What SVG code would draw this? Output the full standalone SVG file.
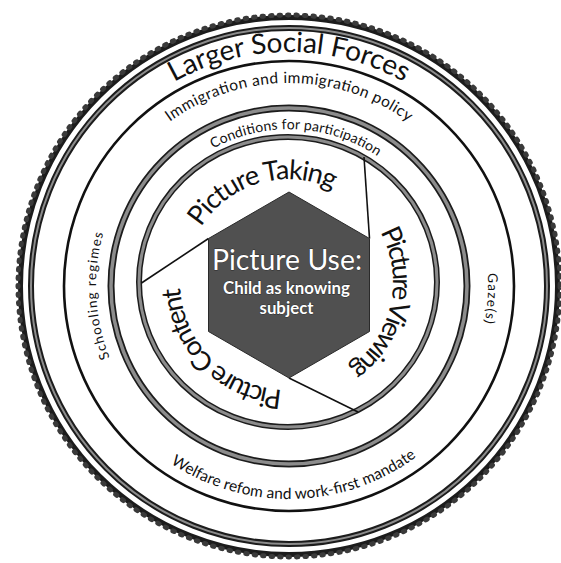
<svg xmlns="http://www.w3.org/2000/svg" width="561" height="563" viewBox="0 0 561 563">
<defs>
<style>
.edge{fill:none;stroke:#1c1c1c}
.core{fill:none;stroke:#8c8c8c}
.thin{fill:none;stroke:#111;stroke-width:2.6}
.bumps{fill:none;stroke:#3a3a3a;stroke-width:5;stroke-dasharray:1.5 7;stroke-linecap:round}
.t{font-family:Lato,"Open Sans","Liberation Sans",sans-serif;fill:#111;text-anchor:middle}
.blade{stroke:#111;stroke-width:1.6;fill:none}
.hex{fill:#505050;stroke:#2a2a2a;stroke-width:1}
.w{font-family:Lato,"Open Sans","Liberation Sans",sans-serif;fill:#fff;text-anchor:middle;stroke:#2a2a2a;stroke-width:0.8;paint-order:stroke}
</style>
<path id="pLarger" d="M55,286 A234,234 0 0 1 523,286"/>
<path id="pImm" d="M86,286 A203,203 0 0 1 492,286"/>
<path id="pCond" d="M131.18,278.56 A158,158 0 0 1 446.82,293.44"/>
<path id="pSchool" d="M282.26,478.88 A193,193 0 0 1 262.14,94.88"/>
<path id="pGaze" d="M301.15,87.37 A199,199 0 0 1 276.85,484.63"/>
<path id="pWelfare" d="M76.07,291.58 A213,213 0 0 0 501.93,280.42"/>
<path id="pTaking" d="M188.99,310.39 A103,103 0 0 1 387.01,253.61"/>
<path id="pViewing" d="M311.62,179.69 A105,105 0 0 1 264.38,384.31"/>
<path id="pContent" d="M364.37,358.37 A108,108 0 0 1 211.63,205.63"/>
</defs>
<rect width="561" height="563" fill="#fff"/>

<g id="outer-ring">
<circle cx="289" cy="286" r="268.5" class="edge" stroke="#3a3a3a" stroke-width="5"/>
<circle cx="289" cy="286" r="271" class="bumps"/>
<circle cx="289" cy="286" r="258" class="edge" stroke-width="6"/>
<circle cx="289" cy="286" r="258" class="core" stroke="#707070" stroke-width="2"/>
</g>

<g id="larger-social-forces">
<circle cx="289" cy="286" r="225" class="thin"/>
<text class="t" font-size="28"><textPath href="#pLarger" startOffset="50%" textLength="240" lengthAdjust="spacing">Larger Social Forces</textPath></text>
<text class="t" font-size="15.5"><textPath href="#pImm" startOffset="50%" textLength="255" lengthAdjust="spacing">Immigration and immigration policy</textPath></text>
<text class="t" font-size="13.5"><textPath href="#pSchool" startOffset="50%" textLength="127" lengthAdjust="spacing">Schooling regimes</textPath></text>
<text class="t" font-size="13.5"><textPath href="#pGaze" startOffset="50%" textLength="50" lengthAdjust="spacing">Gaze(s)</textPath></text>
<text class="t" font-size="15.5"><textPath href="#pWelfare" startOffset="50%" textLength="262" lengthAdjust="spacing">Welfare refom and work-first mandate</textPath></text>
</g>

<g id="conditions-ring">
<circle cx="289" cy="286" r="178" class="edge" stroke-width="7"/>
<circle cx="289" cy="286" r="178" class="core" stroke-width="3.5"/>
<text class="t" font-size="14"><textPath href="#pCond" startOffset="50%" textLength="173" lengthAdjust="spacing">Conditions for participation</textPath></text>
</g>

<g id="picture-ring">
<ellipse cx="288" cy="282" rx="149" ry="145" class="edge" stroke-width="6"/>
<ellipse cx="288" cy="282" rx="149" ry="145" class="core" stroke-width="3"/>
</g>

<g id="connectors">
<line x1="369.5" y1="238.5" x2="364" y2="157" class="blade"/>
<line x1="208.5" y1="238.5" x2="141.5" y2="283" class="blade"/>
<line x1="289" y1="378" x2="358" y2="412" class="blade"/>
</g>

<g id="picture-taking">
<text class="t" font-size="27"><textPath href="#pTaking" startOffset="50%" textLength="150" lengthAdjust="spacing">Picture Taking</textPath></text>
</g>
<g id="picture-viewing">
<text class="t" font-size="27"><textPath href="#pViewing" startOffset="50%" textLength="152" lengthAdjust="spacing">Picture Viewing</textPath></text>
</g>
<g id="picture-content">
<text class="t" font-size="27"><textPath href="#pContent" startOffset="50%" textLength="158" lengthAdjust="spacing">Picture Content</textPath></text>
</g>

<g id="picture-use">
<polygon class="hex" points="289,192 369.5,238.5 369.5,331.5 289,378 208.5,331.5 208.5,238.5"/>
<text class="w" x="287" y="270" font-size="29.5" textLength="150" lengthAdjust="spacingAndGlyphs">Picture Use:</text>
<text class="w" x="286.5" y="294" font-size="16.5" font-weight="bold" textLength="127" lengthAdjust="spacingAndGlyphs">Child as knowing</text>
<text class="w" x="286.5" y="314" font-size="16.5" font-weight="bold" textLength="54" lengthAdjust="spacingAndGlyphs">subject</text>
</g>
</svg>
